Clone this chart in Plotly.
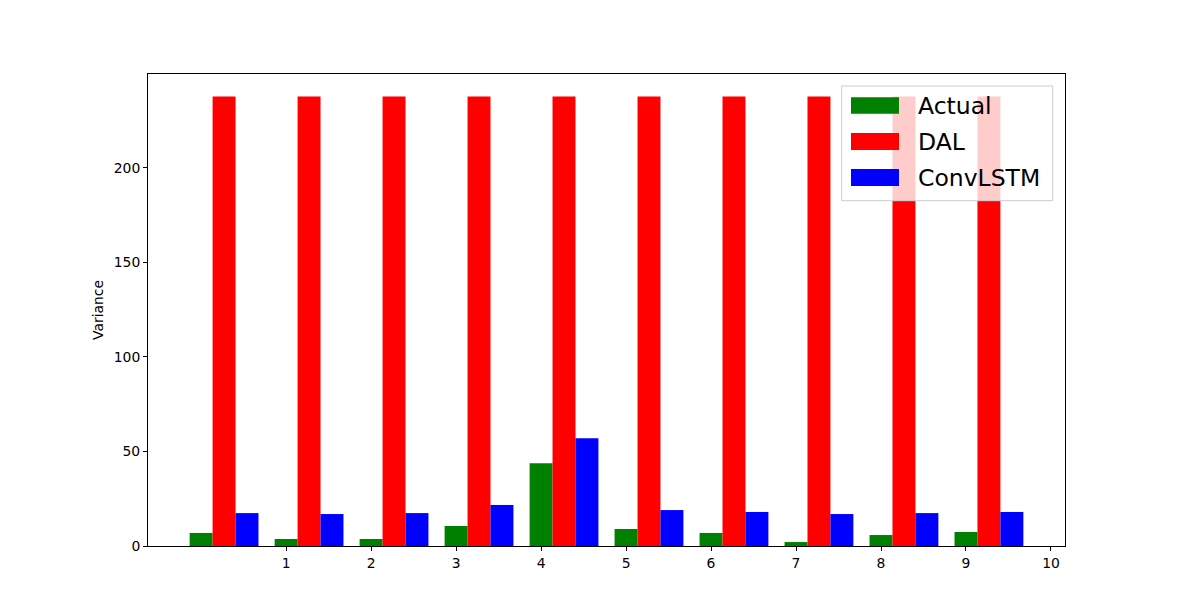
import plotly.graph_objects as go

# variance per sample
samples = list(range(10))
actual = [6.9, 3.7, 3.7, 10.6, 43.8, 9.0, 6.9, 2.1, 5.8, 7.4]
dal = [237.7] * 10
convlstm = [17.4, 16.9, 17.4, 21.7, 57.0, 19.0, 18.0, 16.9, 17.4, 18.0]
tick_vals = list(range(1, 11))
series = [("Actual", actual, "green"), ("DAL", dal, "red"), ("ConvLSTM", convlstm, "blue")]

W, H = 1183, 614
L, R, T, B = 148, 1065, 74, 546
BAR_W = 0.27
FONT = "DejaVu Sans"


def px(x):
    return (x - L) / (R - L)


def py(y):
    return (B - y) / (B - T)


fig = go.Figure()
for k, (name, vals, color) in enumerate(series):
    fig.add_trace(go.Bar(
        x=samples, y=vals, name=name, width=BAR_W,
        offset=-BAR_W / 2 + k * BAR_W,
        marker=dict(color=color, line=dict(width=0)),
        showlegend=False,
    ))

# matplotlib-like legend drawn by hand (wide patches, translucent box)
shapes = [dict(
    type="rect", xref="paper", yref="paper", layer="above",
    x0=px(841.7), x1=px(1052.7), y0=py(200.7), y1=py(86),
    fillcolor="rgba(255,255,255,0.8)", line=dict(color="#cccccc", width=1),
)]
annotations = []
rows = [(97.3, 113.7, 105.5), (133, 150, 141.5), (169, 186, 177.5)]
for (name, _, color), (top, bot, mid) in zip(series, rows):
    shapes.append(dict(
        type="rect", xref="paper", yref="paper", layer="above",
        x0=px(851), x1=px(899), y0=py(bot), y1=py(top),
        fillcolor=color, line=dict(width=0),
    ))
    annotations.append(dict(
        text=name, xref="paper", yref="paper", x=px(916), y=py(mid),
        xanchor="left", yanchor="middle", showarrow=False,
        font=dict(family=FONT, size=23.5, color="black"),
    ))

annotations.append(dict(
    text="Variance", xref="paper", yref="paper", x=px(98), y=py(310),
    textangle=-90, xanchor="center", yanchor="middle", showarrow=False,
    font=dict(family=FONT, size=13.9, color="black"),
))

axis_style = dict(
    showline=True, linecolor="black", linewidth=1, mirror=True,
    ticks="outside", ticklen=4, tickcolor="black", tickwidth=1,
    showgrid=False, zeroline=False,
    tickfont=dict(family=FONT, size=13.9, color="black"),
)

fig.update_layout(
    width=W, height=H, barmode="overlay",
    margin=dict(l=L, r=W - R, t=T, b=H - B),
    plot_bgcolor="white", paper_bgcolor="white",
    xaxis=dict(range=[-0.625, 10.165], tickvals=tick_vals, **axis_style),
    yaxis=dict(range=[0, 249.6], tickvals=[0, 50, 100, 150, 200], **axis_style),
    shapes=shapes, annotations=annotations,
)

# drop the default page margin so the figure sits at the window origin
fig.write_html(
    "out.html",
    config={"displayModeBar": False},
    post_script="document.body.style.margin='0';",
)
